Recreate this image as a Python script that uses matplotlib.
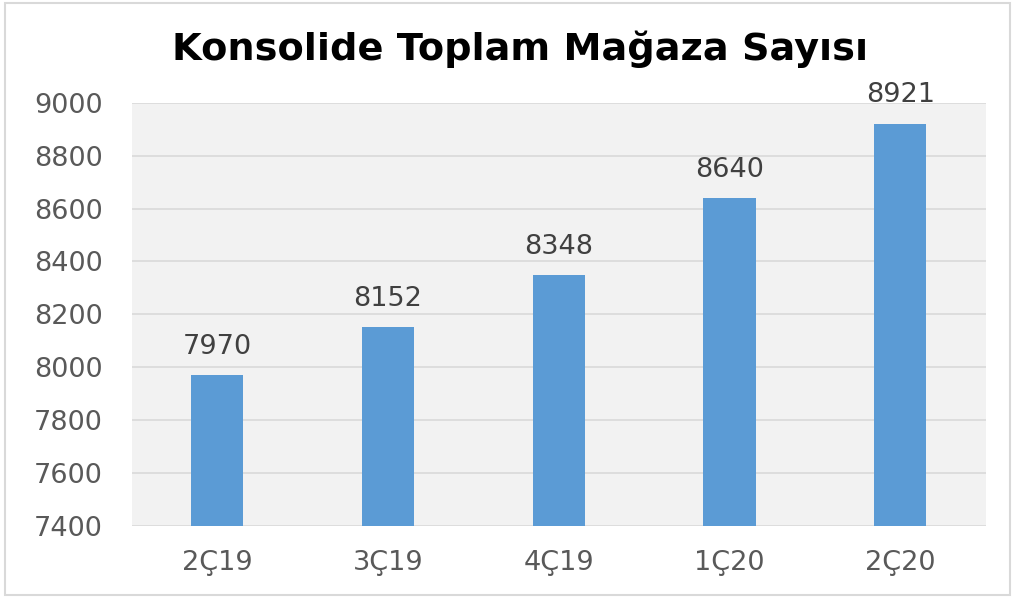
import matplotlib.pyplot as plt
from matplotlib.patches import Rectangle

categories = ['2Ç19', '3Ç19', '4Ç19', '1Ç20', '2Ç20']
store_counts = [7970, 8152, 8348, 8640, 8921]
y_ticks = [7400, 7600, 7800, 8000, 8200, 8400, 8600, 8800, 9000]

fig = plt.figure(figsize=(10.15, 5.97), dpi=100)
ax = fig.add_axes([0.130, 0.119, 0.841, 0.709])

# outer frame
fig.patches.append(Rectangle((0.005, 0.003), 0.99, 0.992, transform=fig.transFigure,
                             fill=False, edgecolor='#d9d9d9', linewidth=1.5))

ax.set_facecolor('#f2f2f2')
x = range(len(categories))
bars = ax.bar(x, store_counts, width=0.305, color='#5b9bd5', zorder=3)

for xi, v in zip(x, store_counts):
    ax.annotate(str(v), (xi, v), xytext=(0, 11), textcoords='offset points',
                ha='center', va='bottom', fontsize=19.5, color='#404040')

ax.set_ylim(7400, 9000)
ax.set_xlim(-0.5, len(categories) - 0.5)
ax.set_yticks(y_ticks)
ax.set_xticks(list(x))
ax.set_xticklabels(categories)
ax.tick_params(axis='both', length=0, labelsize=19.5, labelcolor='#595959')
ax.tick_params(axis='x', pad=17)
ax.tick_params(axis='y', pad=21)
ax.grid(axis='y', color='#d9d9d9', linewidth=1.2, zorder=0)
for s in ax.spines.values():
    s.set_visible(False)

fig.text(0.512, 0.918, 'Konsolide Toplam Mağaza Sayısı', ha='center', va='center',
         fontsize=27.5, fontweight='bold', color='black')

fig.savefig('out.png', dpi=100)
